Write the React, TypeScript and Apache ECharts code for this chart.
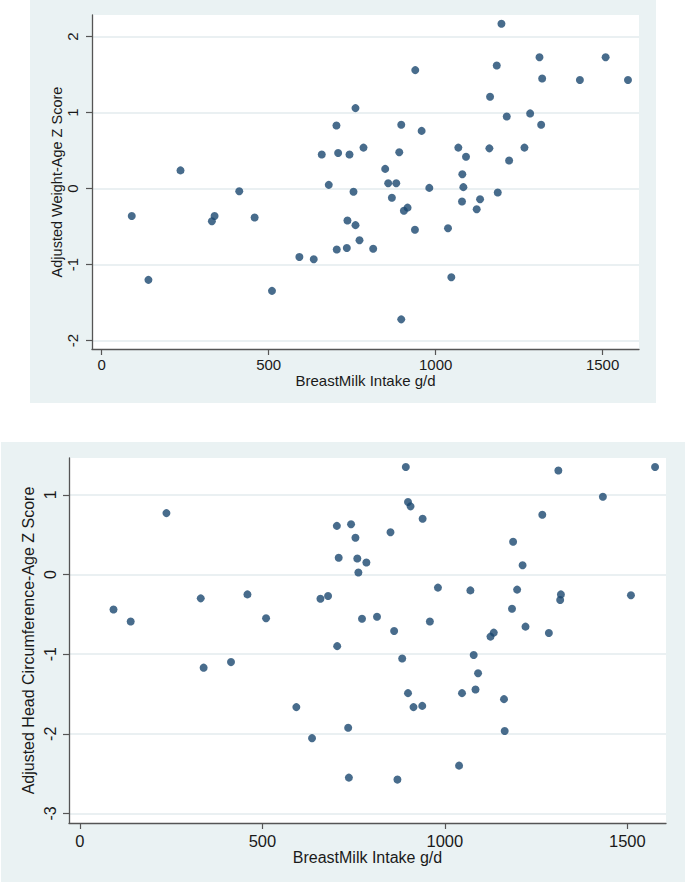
import { useEffect, useRef } from "react";
import * as echarts from "echarts";

// Tick labels
const xTicks = [0, 500, 1000, 1500];
const weightYTicks = [-2, -1, 0, 1, 2];
const headYTicks = [-3, -2, -1, 0, 1];

// Panel 1: Adjusted Weight-Age Z Score vs breast milk intake
const weightIntake = [
  90, 140, 236, 330, 338, 412, 458, 510, 592, 635, 659, 680, 703, 708, 704, 734,
  736, 742, 754, 760, 760, 772, 784, 813, 849, 858, 869, 882, 891, 897, 897, 905,
  916, 938, 939, 958, 981, 1037, 1047, 1068, 1080, 1083, 1079, 1091, 1123, 1133,
  1161, 1163, 1183, 1186, 1197, 1213, 1220, 1266, 1283, 1311, 1316, 1319, 1432,
  1509, 1576,
];
const weightZ = [
  -0.36, -1.2, 0.24, -0.43, -0.36, -0.035, -0.38, -1.345, -0.9, -0.93, 0.45,
  0.05, 0.83, 0.47, -0.8, -0.78, -0.42, 0.45, -0.04, 1.06, -0.48, -0.68, 0.54,
  -0.79, 0.26, 0.07, -0.12, 0.07, 0.48, 0.84, -1.72, -0.29, -0.25, -0.54, 1.56,
  0.76, 0.01, -0.52, -1.165, 0.54, 0.19, 0.02, -0.17, 0.42, -0.27, -0.14, 0.53,
  1.21, 1.62, -0.05, 2.17, 0.95, 0.37, 0.54, 0.99, 1.73, 0.84, 1.45, 1.43, 1.73,
  1.43,
];

// Panel 2: Adjusted Head Circumference-Age Z Score vs breast milk intake
const headIntake = [
  92, 139, 237, 331, 339, 414, 459, 510, 593, 636, 659, 680, 704, 709, 705, 735,
  737, 743, 755, 760, 763, 773, 785, 814, 851, 861, 870, 883, 893, 899, 906, 899,
  914, 938, 939, 959, 981, 1039, 1047, 1070, 1079, 1084, 1091, 1125, 1134, 1162,
  1164, 1187, 1184, 1198, 1213, 1221, 1267, 1285, 1311, 1316, 1318, 1433, 1510,
  1576,
];
const headZ = [
  -0.44, -0.59, 0.77, -0.3, -1.17, -1.1, -0.25, -0.55, -1.665, -2.055, -0.305,
  -0.27, 0.61, 0.21, -0.9, -1.925, -2.55, 0.63, 0.46, 0.2, 0.025, -0.555, 0.15,
  -0.53, 0.53, -0.71, -2.575, -1.055, 1.35, 0.91, 0.855, -1.49, -1.665, -1.65,
  0.7, -0.59, -0.165, -2.4, -1.49, -0.2, -1.01, -1.445, -1.24, -0.78, -0.73,
  -1.565, -1.965, 0.41, -0.43, -0.19, 0.115, -0.655, 0.75, -0.735, 1.305, -0.32,
  -0.25, 0.975, -0.26, 1.35,
];

const FONT = "'Liberation Sans', Arial, sans-serif";
const NAVY = "#1a476f";
const PANEL_BG = "#eaf2f3";
const GRID_LINE = "#e3ebee";
const AXIS = "#555555";
const TEXT = "#1a1a1a";

const plain = (v: number) => String(v);

export default function App() {
  const ref = useRef<HTMLDivElement>(null);

  useEffect(() => {
    if (!ref.current) return;
    const chart = echarts.init(ref.current, null, { renderer: "svg" });

    const xAxisCommon = (
      gridIndex: number,
      fontSize: number,
      nameSize: number,
      labelMargin: number,
      nameGap: number
    ) => ({
      type: "value" as const,
      gridIndex,
      name: "BreastMilk Intake g/d",
      nameLocation: "middle" as const,
      nameGap,
      nameMoveOverlap: false,
      nameTextStyle: { fontFamily: FONT, fontSize: nameSize, color: TEXT },
      axisLine: { show: true, onZero: false, lineStyle: { color: AXIS, width: 1.3 } },
      axisTick: { show: true, length: 6, customValues: xTicks, lineStyle: { color: AXIS, width: 1.2 } },
      axisLabel: {
        customValues: xTicks,
        formatter: plain,
        margin: labelMargin,
        fontFamily: FONT,
        fontSize,
        color: TEXT,
      },
      splitLine: { show: false },
    });

    const yAxisCommon = (
      gridIndex: number,
      ticks: number[],
      name: string,
      fontSize: number,
      nameSize: number,
      labelMargin: number,
      nameGap: number
    ) => ({
      type: "value" as const,
      gridIndex,
      name,
      nameLocation: "middle" as const,
      nameRotate: 90,
      nameGap,
      nameMoveOverlap: false,
      nameTextStyle: { fontFamily: FONT, fontSize: nameSize, color: TEXT },
      axisLine: { show: true, onZero: false, lineStyle: { color: AXIS, width: 1.3 } },
      axisTick: { show: true, length: 6, customValues: ticks, lineStyle: { color: AXIS, width: 1.2 } },
      axisLabel: {
        customValues: ticks,
        formatter: plain,
        rotate: 90,
        align: "center",
        verticalAlign: "bottom",
        margin: labelMargin,
        fontFamily: FONT,
        fontSize,
        color: TEXT,
      },
      splitLine: { show: true, lineStyle: { color: GRID_LINE, width: 1.5 } },
    });

    chart.setOption({
      animation: false,
      backgroundColor: "#ffffff",
      graphic: {
        elements: [
          { type: "rect", z: -10, silent: true, shape: { x: 30, y: 0, width: 626, height: 403 }, style: { fill: PANEL_BG } },
          { type: "rect", z: -10, silent: true, shape: { x: 1, y: 442, width: 684, height: 440 }, style: { fill: PANEL_BG } },
        ],
      },
      grid: [
        { left: 92, top: 15, width: 547, height: 334, show: true, backgroundColor: "#ffffff", borderWidth: 0, containLabel: false, outerBoundsMode: "none" },
        { left: 69, top: 458, width: 597, height: 365, show: true, backgroundColor: "#ffffff", borderWidth: 0, containLabel: false, outerBoundsMode: "none" },
      ],
      xAxis: [
        { ...xAxisCommon(0, 15, 15, 8, 24), min: -29, max: 1609 },
        { ...xAxisCommon(1, 16.5, 16, 9, 26), min: -30, max: 1606 },
      ],
      yAxis: [
        { ...yAxisCommon(0, weightYTicks, "Adjusted Weight-Age Z Score", 15, 14.5, 12, 28), min: -2.11, max: 2.285 },
        { ...yAxisCommon(1, headYTicks, "Adjusted Head Circumference-Age Z Score", 16, 16, 11, 33), min: -3.12, max: 1.462 },
      ],
      series: [
        {
          type: "scatter",
          xAxisIndex: 0,
          yAxisIndex: 0,
          symbol: "circle",
          symbolSize: 8,
          itemStyle: { color: NAVY },
          data: weightIntake.map((x, i) => [x, weightZ[i]]),
        },
        {
          type: "scatter",
          xAxisIndex: 1,
          yAxisIndex: 1,
          symbol: "circle",
          symbolSize: 8,
          itemStyle: { color: NAVY },
          data: headIntake.map((x, i) => [x, headZ[i]]),
        },
      ],
    });

    return () => chart.dispose();
  }, []);

  return (
    <div
      ref={ref}
      style={{ position: "absolute", left: 0, top: 0, width: 685, height: 884 }}
    />
  );
}
